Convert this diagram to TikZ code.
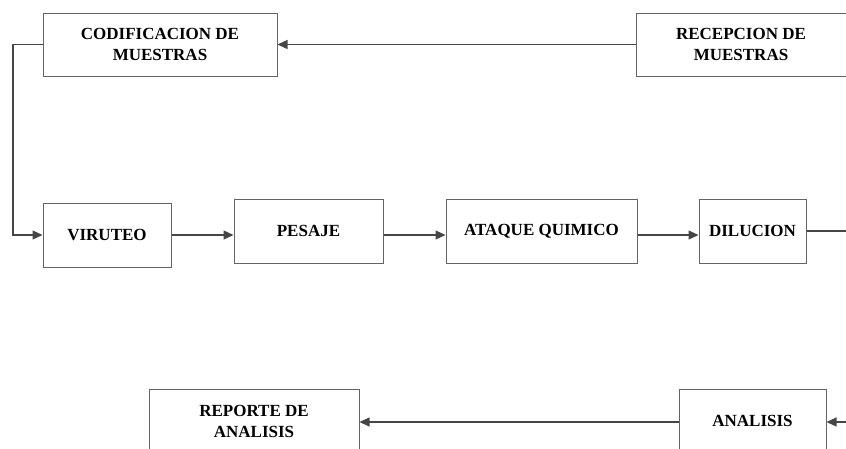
\documentclass[tikz,border=0pt]{standalone}
\usepackage{fontspec}
\setmainfont{Liberation Serif}
\usetikzlibrary{arrows.meta}
\definecolor{boxgray}{RGB}{100,100,100}
\definecolor{linegray}{RGB}{70,70,70}
\tikzset{
  stepbox/.style={draw=boxgray, line width=1pt, fill=white, inner sep=2pt,
    align=center, font=\fontsize{17}{21}\selectfont\bfseries, text=black},
  conn/.style={draw=linegray, line width=1.2pt},
  arr/.style={conn, -{Triangle[length=10pt,width=9pt]}}
}
\begin{document}
\begin{tikzpicture}[x=1pt,y=-1pt]
\useasboundingbox (0,0) rectangle (846,448);
\clip (0,0) rectangle (846,448);
\node[stepbox, minimum width=234, minimum height=63] (cod) at (160,44.5) {CODIFICACION DE\\MUESTRAS};
\node[stepbox, minimum width=210, minimum height=63] (rec) at (741,44.5) {RECEPCION DE\\MUESTRAS};
\node[stepbox, minimum width=128, minimum height=64] (vir) at (107,235) {VIRUTEO};
\node[stepbox, minimum width=149, minimum height=64] (pes) at (308.5,231) {PESAJE};
\node[stepbox, minimum width=191, minimum height=64] (ata) at (541.5,231) {ATAQUE QUIMICO};
\node[stepbox, minimum width=107, minimum height=64] (dil) at (752.5,231) {DILUCION};
\node[stepbox, minimum width=210, minimum height=64] (rep) at (254,421) {REPORTE DE\\ANALISIS};
\node[stepbox, minimum width=147, minimum height=64] (ana) at (752.5,421) {ANALISIS};
\coordinate (c1) at (13,44.5);
\coordinate (r1) at (846,231);
\coordinate (r2) at (846,422);
\draw[arr] (rec.west) -- (cod.east);
\draw[arr] (cod.west) -- (c1) |- (vir.west);
\draw[arr] (vir.east) -- (vir.east -| pes.west);
\draw[arr] ([yshift=-4pt]pes.east) -- ([yshift=-4pt]ata.west);
\draw[arr] ([yshift=-4pt]ata.east) -- ([yshift=-4pt]dil.west);
\draw[conn] (dil.east) -- (r1);
\draw[arr] (r2) -- (r2 -| ana.east);
\draw[arr] (r2 -| ana.west) -- (r2 -| rep.east);
\end{tikzpicture}
\end{document}
